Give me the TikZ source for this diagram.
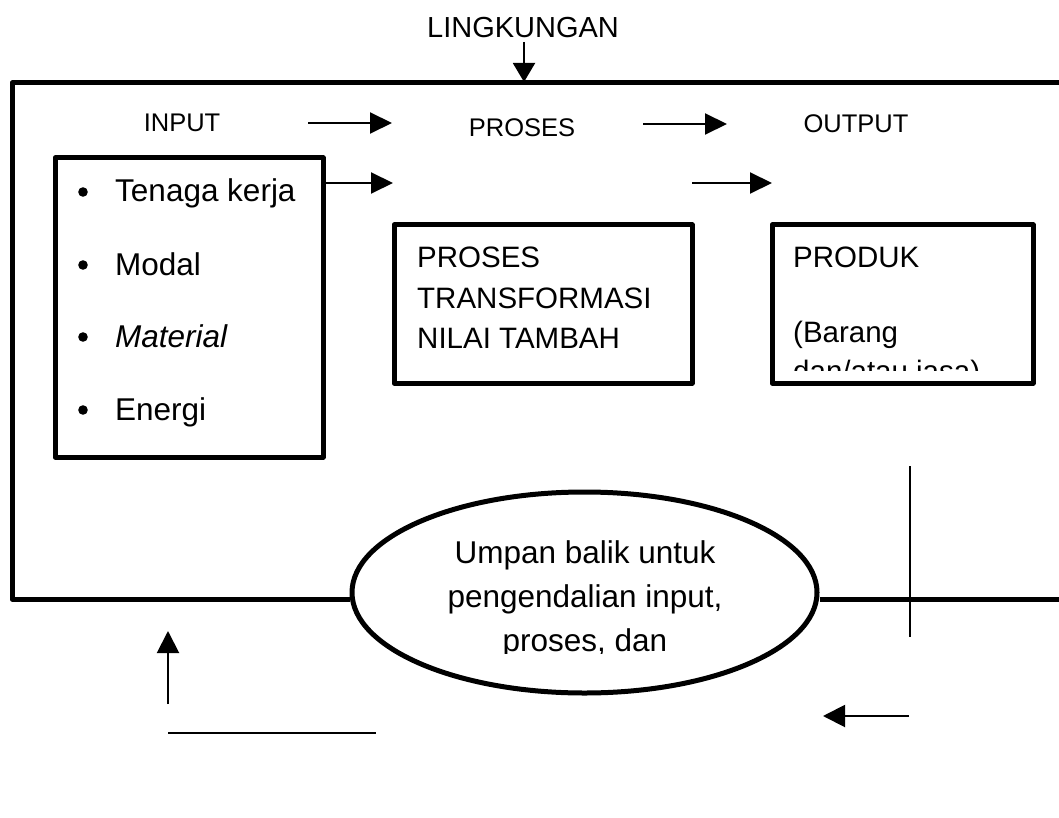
\documentclass[tikz,border=0pt]{standalone}
\usepackage{fontspec}
\setmainfont{Liberation Sans}
\usetikzlibrary{arrows.meta,shapes.geometric}
\begin{document}
\begin{tikzpicture}[x=1pt,y=-1pt,
  thickline/.style={line width=5pt, line join=round},
  thinline/.style={line width=2pt},
  arr/.style={thinline,-{Triangle[length=22pt,width=21pt]}},
  hdr/.style={font=\fontsize{25.5}{30}\selectfont, inner sep=0pt, anchor=base},
  txt/.style={font=\fontsize{29.5}{34}\selectfont, inner sep=0pt, anchor=base west},
  bodytxt/.style={font=\fontsize{31.5}{36}\selectfont, inner sep=0pt},
  box/.style={draw, line width=5pt, line join=round, inner sep=0pt}]
\useasboundingbox (0,0) rectangle (1059,818);

% outer frame
\node[ellipse, draw, line width=5pt, minimum width=465pt, minimum height=201pt, inner sep=0pt] (fb) at (584.5,592.5) {};
\coordinate (fTR) at (1062,83);
\coordinate (fTL) at (12,83);
\coordinate (fBL) at (12,599);
\coordinate (fBR) at (1062,599);
\draw[thickline] (fTR) -- (fTL) -- (fBL) -- (fBL -| fb.west);
\draw[thickline] (fBR -| fb.east) -- (fBR);

% LINGKUNGAN
\node[font=\fontsize{29}{33}\selectfont, inner sep=0pt, anchor=base] (ling) at (523,38) {LINGKUNGAN};
\coordinate (lingTip) at (524,82);
\draw[thinline,-{Triangle[length=19pt,width=22pt]}] (524,42) -- (lingTip);

% headers
\node[hdr] (hin) at (182,132) {INPUT};
\node[hdr] (hpr) at (522,137) {PROSES};
\node[hdr] (hout) at (856,133) {OUTPUT};
\coordinate (a1s) at (308,123); \coordinate (a1e) at (392,123);
\coordinate (a2s) at (643,124); \coordinate (a2e) at (727,124);
\draw[arr] (a1s) -- (a1e);
\draw[arr] (a2s) -- (a2e);

% input box
\node[box, minimum width=268pt, minimum height=299pt] (inp) at (189,307.5) {};
\foreach \t/\yy in {Tenaga kerja/202, Modal/275, \itshape Material/347, Energi/420}{
  \fill (83,\yy-10) circle (4.8pt);
  \node[txt, font=\fontsize{31.5}{36}\selectfont] at (115,\yy) {\t};
}
\coordinate (a3e) at (393,183);
\draw[arr] (inp.east |- a3e) -- (a3e);
\coordinate (a4s) at (692,183); \coordinate (a4e) at (772,183);
\draw[arr] (a4s) -- (a4e);

% proses box
\node[box, minimum width=298pt, minimum height=158pt] (pr) at (543,304) {};
\node[txt] at (417,267) {PROSES};
\node[txt] at (417,308) {TRANSFORMASI};
\node[txt] at (417,348) {NILAI TAMBAH};

% produk box
\node[box, minimum width=261pt, minimum height=158pt] (prod) at (902.5,304) {};
\node[txt] at (793,267) {PRODUK};
\node[txt] at (793,342) {(Barang};
\begin{scope}
  \clip (775,300) rectangle (1030,370);
  \node[txt] at (793,381) {dan/atau jasa)};
\end{scope}

% ellipse text
\node[bodytxt, anchor=base] at (585,563) {Umpan balik untuk};
\node[bodytxt, anchor=base] at (585,607) {pengendalian input,};
\begin{scope}
  \clip (400,600) rectangle (770,653);
  \node[bodytxt, anchor=base] at (585,651) {proses, dan};
\end{scope}

% lower lines and arrows
\coordinate (v1) at (910,466); \coordinate (v2) at (910,637);
\draw[thinline] (v1) -- (v2);
\coordinate (l1) at (909,716); \coordinate (l2) at (823,716);
\draw[thinline,-{Triangle[length=22pt,width=22pt]}] (l1) -- (l2);
\coordinate (u1) at (168,704); \coordinate (u2) at (168,631);
\draw[thinline,-{Triangle[length=22pt,width=22pt]}] (u1) -- (u2);
\coordinate (h1) at (168,733); \coordinate (h2) at (376,733);
\draw[thinline] (h1) -- (h2);
\end{tikzpicture}
\end{document}
